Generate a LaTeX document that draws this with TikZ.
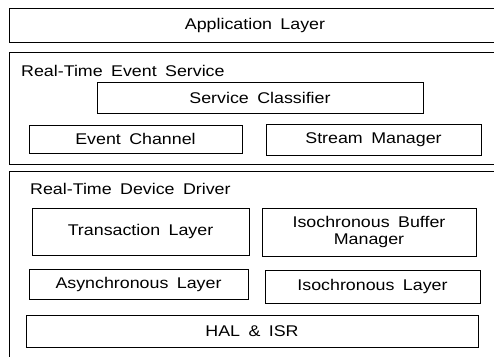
\documentclass[tikz,border=0pt]{standalone}
\usepackage{fontspec}
\setmainfont{Liberation Sans}[FakeStretch=1.15,WordSpace={1.7,1,1}]
\begin{document}
\begin{tikzpicture}[x=1pt,y=-1pt,
  outerbox/.style={draw,line width=0.9pt,anchor=north west,inner sep=0pt},
  box/.style={draw,line width=0.9pt,inner sep=0pt,align=center,font=\fontsize{15.5}{17.5}\selectfont},
  lbl/.style={inner sep=0pt,font=\fontsize{15.5}{17.5}\selectfont}]
\clip (0,0) rectangle (494,356);
\fill[white] (0,0) rectangle (494,356);
% outer layers
\node[outerbox,minimum width=560pt,minimum height=34pt] (app) at (9,8) {};
\node[lbl] (applbl) at (255,25) {Application Layer};
\node[outerbox,minimum width=560pt,minimum height=112pt] (res) at (9,52) {};
\node[lbl,anchor=west] (reslbl) at (21,71) {Real-Time Event Service};
\node[outerbox,minimum width=560pt,minimum height=220pt] (rdd) at (9,171) {};
\node[lbl,anchor=west] (rddlbl) at (30,189) {Real-Time Device Driver};
% event service
\node[box,minimum width=326pt,minimum height=31pt] (sc) at (260,97.5) {Service Classifier};
\node[box,minimum width=213pt,minimum height=28pt] (ec) at (135.5,139) {Event Channel};
\node[box,minimum width=215pt,minimum height=31pt] (sm) at (373.5,139.5) {Stream Manager};
% device driver
\node[box,minimum width=217pt,minimum height=47pt] (tl) at (140.5,231.5) {Transaction Layer};
\node[box,minimum width=214pt,minimum height=48pt] (ibm) at (369,232) {Isochronous Buffer\\Manager};
\node[box,minimum width=219pt,minimum height=30pt] (al) at (138.5,284) {Asynchronous Layer};
\node[box,minimum width=215pt,minimum height=33pt] (il) at (372.5,286.5) {Isochronous Layer};
\node[box,minimum width=452pt,minimum height=32pt] (hal) at (252,331) {HAL \& ISR};
\end{tikzpicture}
\end{document}
